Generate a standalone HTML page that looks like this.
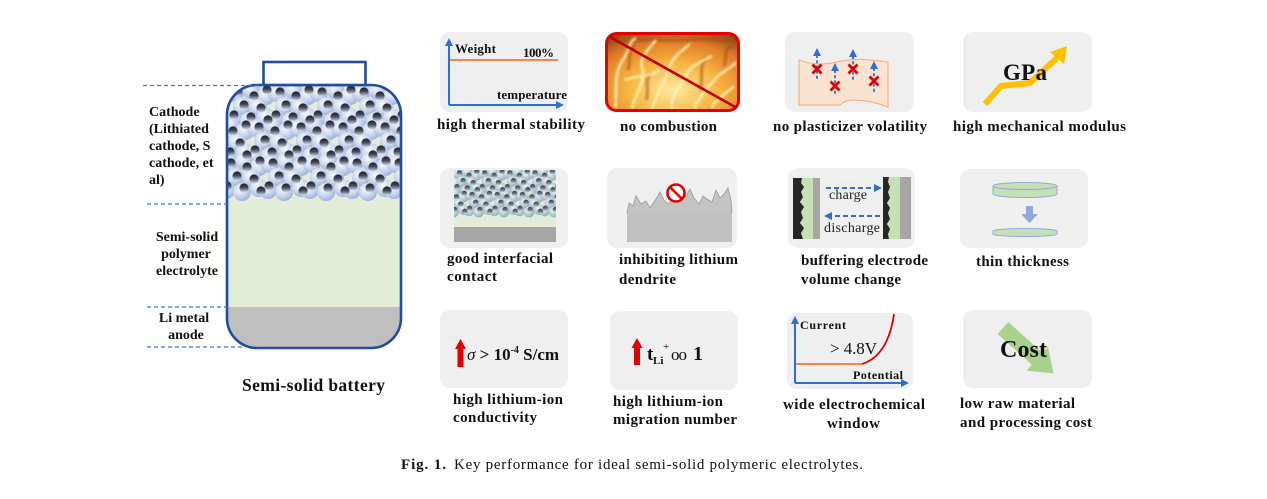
<!DOCTYPE html>
<html><head><meta charset="utf-8"><style>
html,body{margin:0;padding:0;background:#fff;}
svg{display:block;}
</style></head><body>
<svg width="1267" height="499" viewBox="0 0 1267 499" xmlns="http://www.w3.org/2000/svg" font-family="'Liberation Serif', serif">
<defs>
  <radialGradient id="bub" cx="0.4" cy="0.35" r="0.65">
    <stop offset="0" stop-color="#f6f9fd"/><stop offset="0.55" stop-color="#cfdaef"/><stop offset="1" stop-color="#9fb3dc"/>
  </radialGradient>
  <radialGradient id="bub2" cx="0.4" cy="0.35" r="0.65">
    <stop offset="0" stop-color="#eef4f3"/><stop offset="0.55" stop-color="#b9d0d6"/><stop offset="1" stop-color="#8fb0bd"/>
  </radialGradient>
  <linearGradient id="sph" x1="0" y1="0" x2="0" y2="1">
    <stop offset="0" stop-color="#1c1d26"/><stop offset="0.45" stop-color="#444a5a"/><stop offset="0.8" stop-color="#a0a9bb"/><stop offset="1" stop-color="#e3e8f0"/>
  </linearGradient>
  <linearGradient id="sph2" x1="0" y1="0" x2="0" y2="1">
    <stop offset="0" stop-color="#3a3f48"/><stop offset="0.5" stop-color="#66707c"/><stop offset="1" stop-color="#d8dee4"/>
  </linearGradient>
  <radialGradient id="fireg" cx="0.5" cy="0.72" r="0.8">
    <stop offset="0" stop-color="#ffe9a0"/><stop offset="0.4" stop-color="#f9b845"/><stop offset="0.75" stop-color="#e07d26"/><stop offset="1" stop-color="#8a4418"/>
  </radialGradient>
  <filter id="blur1" x="-10%" y="-10%" width="120%" height="120%"><feGaussianBlur stdDeviation="1.1"/></filter>
  <clipPath id="bodyclip"><rect x="228" y="86" width="172" height="261" rx="29"/></clipPath>
  <clipPath id="cathclip"><rect x="228" y="86" width="172" height="122"/></clipPath>
  <clipPath id="miniclip"><rect x="454" y="170" width="102" height="58"/></clipPath>
  <clipPath id="fireclip"><rect x="607" y="34.5" width="131" height="75" rx="9"/></clipPath>
  <g id="clb">
    <circle cx="6" cy="6" r="9"/><circle cx="22" cy="3" r="9"/><circle cx="37" cy="9" r="9"/><circle cx="13" cy="19" r="9"/><circle cx="29" cy="20" r="9"/><circle cx="4" cy="32" r="9"/><circle cx="20" cy="34" r="9"/><circle cx="37" cy="30" r="9"/>
  </g>
  <g id="cls">
    <circle cx="9" cy="5" r="4.6"/><circle cx="25" cy="9" r="4.6"/><circle cx="38" cy="3" r="4.6"/><circle cx="15" cy="18" r="4.6"/><circle cx="32" cy="21" r="4.6"/><circle cx="5" cy="28" r="4.6"/><circle cx="22" cy="30" r="4.6"/><circle cx="39" cy="33" r="4.6"/>
  </g>
</defs>

<!-- ===== Battery ===== -->
<g clip-path="url(#bodyclip)">
  <rect x="226" y="84" width="176" height="224" fill="#e3ecd6"/>
  <rect x="226" y="307" width="176" height="42" fill="#bfbfbf"/>
  <g clip-path="url(#cathclip)">
    <g fill="url(#bub)">
      <use href="#clb" x="229" y="87"/><use href="#clb" x="271" y="87"/><use href="#clb" x="313" y="87"/><use href="#clb" x="355" y="87"/><use href="#clb" x="397" y="87"/>
      <use href="#clb" x="208" y="122"/><use href="#clb" x="250" y="122"/><use href="#clb" x="292" y="122"/><use href="#clb" x="334" y="122"/><use href="#clb" x="376" y="122"/>
      <use href="#clb" x="222" y="158"/><use href="#clb" x="264" y="158"/><use href="#clb" x="306" y="158"/><use href="#clb" x="348" y="158"/><use href="#clb" x="390" y="158"/>
    </g>
    <g fill="url(#sph)">
      <use href="#cls" x="229" y="87"/><use href="#cls" x="271" y="87"/><use href="#cls" x="313" y="87"/><use href="#cls" x="355" y="87"/><use href="#cls" x="397" y="87"/>
      <use href="#cls" x="208" y="122"/><use href="#cls" x="250" y="122"/><use href="#cls" x="292" y="122"/><use href="#cls" x="334" y="122"/><use href="#cls" x="376" y="122"/>
      <use href="#cls" x="222" y="158"/><use href="#cls" x="264" y="158"/><use href="#cls" x="306" y="158"/><use href="#cls" x="348" y="158"/><use href="#cls" x="390" y="158"/>
    </g>
  </g>
</g>
<rect x="227" y="85" width="174" height="263" rx="30" fill="none" stroke="#1f4e9a" stroke-width="2.6"/>
<rect x="263.5" y="62" width="102" height="23" fill="#fff" stroke="#1f4e9a" stroke-width="2.6"/>
<g stroke="#4472c4" stroke-width="1.3" stroke-dasharray="4 3">
  <line x1="143" y1="85.5" x2="263" y2="85.5"/>
  <line x1="147" y1="204" x2="227" y2="204"/>
  <line x1="147" y1="307" x2="227" y2="307"/>
  <line x1="147" y1="347" x2="242" y2="347"/>
</g>
<g font-size="14" font-weight="bold" fill="#111">
  <text x="149" y="116">Cathode</text>
  <text x="149" y="133">(Lithiated</text>
  <text x="149" y="150">cathode, S</text>
  <text x="149" y="167">cathode, et</text>
  <text x="149" y="184">al)</text>
  <text x="187" y="241" text-anchor="middle">Semi-solid</text>
  <text x="186" y="258" text-anchor="middle">polymer</text>
  <text x="187" y="275" text-anchor="middle">electrolyte</text>
  <text x="184" y="322" text-anchor="middle">Li metal</text>
  <text x="186" y="339" text-anchor="middle">anode</text>
</g>
<text x="242" y="391" font-size="17.5" font-weight="bold" fill="#111" textLength="143">Semi-solid battery</text>

<!-- ===== Panels backgrounds ===== -->
<g fill="#efefef">
  <rect x="440" y="32" width="128" height="80" rx="10"/>
  <rect x="785" y="32" width="129" height="80" rx="10"/>
  <rect x="963" y="32" width="129" height="80" rx="10"/>
  <rect x="440" y="168" width="128" height="80" rx="10"/>
  <rect x="607" y="168" width="130" height="80" rx="10"/>
  <rect x="788" y="168" width="127" height="80" rx="10"/>
  <rect x="960" y="169" width="128" height="79" rx="10"/>
  <rect x="440" y="310" width="128" height="78" rx="10"/>
  <rect x="610" y="311" width="128" height="79" rx="10"/>
  <rect x="787" y="313" width="126" height="76" rx="10"/>
  <rect x="963" y="310" width="129" height="78" rx="10"/>
</g>

<!-- R1P1 thermal -->
<g stroke="#2f6fce" stroke-width="2" fill="none">
  <line x1="449" y1="105" x2="449" y2="45"/>
  <line x1="449" y1="105" x2="556" y2="105"/>
</g>
<polygon points="449,38 445,46 453,46" fill="#2f6fce"/>
<polygon points="564,105 556,101 556,109" fill="#2f6fce"/>
<line x1="450" y1="60" x2="558" y2="60" stroke="#ed7d31" stroke-width="1.8"/>
<g font-size="13" font-weight="bold" fill="#111">
  <text x="455" y="53" textLength="41">Weight</text>
  <text x="523" y="57" textLength="31">100%</text>
  <text x="497" y="99" textLength="70">temperature</text>
</g>

<!-- R1P2 fire -->
<g clip-path="url(#fireclip)">
  <rect x="605" y="32" width="136" height="80" fill="url(#fireg)"/>
  <g fill="none" stroke="#a04a16" stroke-width="3" opacity="0.55" filter="url(#blur1)">
    <path d="M610,40 C625,44 640,38 660,40 C680,42 700,36 735,42"/>
    <path d="M628,70 C632,60 626,52 634,46"/>
    <path d="M700,90 C704,78 698,68 706,58"/>
    <path d="M724,66 C728,58 722,50 732,46"/>
    <path d="M646,100 C650,90 644,82 650,74"/>
  </g>
  <g fill="none" stroke="#fff1b8" stroke-width="2.6" opacity="0.9" filter="url(#blur1)">
    <path d="M615,108 C618,90 612,75 624,58 C630,50 628,42 636,38"/>
    <path d="M632,108 C636,92 646,82 642,66 C640,56 650,48 656,40"/>
    <path d="M652,108 C656,96 664,84 668,70 C672,58 680,52 690,44"/>
    <path d="M672,108 C670,96 680,88 686,76 C690,66 700,62 712,56"/>
    <path d="M694,108 C700,96 706,90 714,80 C720,72 730,70 736,62"/>
    <path d="M712,108 C716,98 726,94 734,86"/>
    <path d="M625,80 C640,74 650,78 660,70"/>
  </g>
</g>
<rect x="606.5" y="33.5" width="132" height="77" rx="10" fill="none" stroke="#e60000" stroke-width="3"/>
<line x1="610" y1="37" x2="737" y2="108" stroke="#c00000" stroke-width="2.6"/>

<!-- R1P3 plasticizer -->
<path d="M799,60 Q815,66 832,63 Q852,58 870,60 L888,62 L888,107 Q870,100 853,100 Q845,100 840,105 L799,105 Z" fill="#fbe3d2" stroke="#f4b183" stroke-width="1.2"/>
<g stroke="#2f6fce" stroke-width="1.8" stroke-dasharray="3 2.2">
  <line x1="817" y1="55" x2="817" y2="80"/>
  <line x1="835" y1="70" x2="835" y2="95"/>
  <line x1="853" y1="56" x2="853" y2="80"/>
  <line x1="874" y1="68" x2="874" y2="92"/>
</g>
<g fill="#2f6fce">
  <polygon points="817,48 813,56 821,56"/>
  <polygon points="835,63 831,71 839,71"/>
  <polygon points="853,49 849,57 857,57"/>
  <polygon points="874,61 870,69 878,69"/>
</g>
<g stroke="#e00000" stroke-width="2.8">
  <path d="M812.5,64.5 L821.5,73.5 M821.5,64.5 L812.5,73.5"/>
  <path d="M830.5,81.5 L839.5,90.5 M839.5,81.5 L830.5,90.5"/>
  <path d="M848.5,64.5 L857.5,73.5 M857.5,64.5 L848.5,73.5"/>
  <path d="M869.5,76.5 L878.5,85.5 M878.5,76.5 L869.5,85.5"/>
</g>

<!-- R1P4 GPa -->
<polyline points="985,104 1001,86 1030,83 1057,58" fill="none" stroke="#ffc000" stroke-width="6" stroke-linejoin="miter"/>
<polygon points="1067,46 1064,64 1050,52" fill="#ffc000"/>
<text x="1003" y="80" font-size="23" font-weight="bold" fill="#111" textLength="44">GPa</text>

<!-- R2P1 interfacial -->
<rect x="454" y="170" width="102" height="58" fill="#e3ecd6"/>
<g clip-path="url(#miniclip)">
  <g transform="translate(454,170) scale(0.6)">
    <g fill="url(#bub2)">
      <use href="#clb" x="0" y="0"/><use href="#clb" x="42" y="0"/><use href="#clb" x="84" y="0"/><use href="#clb" x="126" y="0"/><use href="#clb" x="168" y="0"/>
      <use href="#clb" x="-21" y="36"/><use href="#clb" x="21" y="36"/><use href="#clb" x="63" y="36"/><use href="#clb" x="105" y="36"/><use href="#clb" x="147" y="36"/>
    </g>
    <g fill="url(#sph2)">
      <use href="#cls" x="0" y="0"/><use href="#cls" x="42" y="0"/><use href="#cls" x="84" y="0"/><use href="#cls" x="126" y="0"/><use href="#cls" x="168" y="0"/>
      <use href="#cls" x="-21" y="36"/><use href="#cls" x="21" y="36"/><use href="#cls" x="63" y="36"/><use href="#cls" x="105" y="36"/><use href="#cls" x="147" y="36"/>
    </g>
  </g>
</g>
<rect x="454" y="227" width="102" height="15" fill="#a5a5a5"/>

<!-- R2P2 dendrite -->
<polygon points="627,213 629,203 633,206 636,196 641,204 646,201 650,208 656,199 660,192 664,200 668,204 674,198 680,200 686,196 690,189 694,198 699,204 703,196 707,199 712,202 716,190 720,198 724,194 728,188 731,200 732,213" fill="#c3c3c3" stroke="#9a9a9a" stroke-width="0.8"/>
<rect x="627" y="212" width="105" height="30" fill="#c0c0c0"/>
<circle cx="676" cy="193" r="8.5" fill="#fff" stroke="#e00000" stroke-width="2.6"/>
<line x1="670" y1="187" x2="682" y2="199" stroke="#e00000" stroke-width="2.6"/>

<!-- R2P3 electrode -->
<rect x="801" y="178" width="13" height="61" fill="#c5e0b4"/>
<rect x="813" y="178" width="7" height="61" fill="#a6a6a6"/>
<polygon points="793,178 802,178 801,183 804,187 801,192 803,197 800,202 804,207 801,212 803,218 800,223 804,228 801,233 803,239 793,239" fill="#262626"/>
<rect x="888" y="177" width="12" height="62" fill="#c5e0b4"/>
<rect x="900" y="177" width="11" height="62" fill="#a6a6a6"/>
<polygon points="883,177 889,177 888,182 890,187 888,192 890,198 887,203 890,208 888,213 890,219 887,224 890,229 888,234 889,239 883,239" fill="#262626"/>
<g stroke="#2f6fce" stroke-width="2" stroke-dasharray="5 3">
  <line x1="826" y1="188" x2="875" y2="188"/>
  <line x1="880" y1="216" x2="832" y2="216"/>
</g>
<polygon points="882,188 874,184 874,192" fill="#2f6fce"/>
<polygon points="824,216 832,212 832,220" fill="#2f6fce"/>
<text x="829" y="199" font-size="14" fill="#222" textLength="38">charge</text>
<text x="824" y="232" font-size="14" fill="#222" textLength="56">discharge</text>

<!-- R2P4 thin -->
<path d="M993,186 A32,3.5 0 0 1 1057,186 L1057,194 A32,3.5 0 0 1 993,194 Z" fill="#c5e0b4" stroke="#8faadc" stroke-width="1"/>
<path d="M993,186 A32,3.5 0 0 0 1057,186" fill="none" stroke="#8faadc" stroke-width="1"/>
<rect x="1026" y="206" width="7" height="9" fill="#8faadc"/>
<polygon points="1021,214 1038,214 1029.5,223" fill="#8faadc"/>
<path d="M993,231 A32,2.5 0 0 1 1057,231 L1057,234 A32,2.5 0 0 1 993,234 Z" fill="#c5e0b4" stroke="#8faadc" stroke-width="1"/>

<!-- R3P1 sigma -->
<rect x="457.5" y="348" width="6" height="19" fill="#e00000"/>
<polygon points="460.5,339 455,349 466,349" fill="#e00000"/>
<text x="467" y="360" font-size="17" font-weight="bold" fill="#111"><tspan font-style="italic" font-weight="normal">σ</tspan> &gt; 10<tspan font-size="10" dy="-7">-4</tspan><tspan dy="7"> S/cm</tspan></text>

<!-- R3P2 tLi -->
<rect x="634" y="347" width="6" height="18" fill="#e00000"/>
<polygon points="637,338 631.5,348 642.5,348" fill="#e00000"/>
<text x="647" y="360" font-size="19" font-weight="bold" fill="#111">t</text>
<text x="653" y="364" font-size="11" font-weight="bold" fill="#111">Li</text>
<text x="663" y="350" font-size="11" fill="#111">+</text>
<text x="671" y="360" font-size="17" fill="#111" textLength="16">oo</text>
<text x="693" y="360" font-size="20" font-weight="bold" fill="#111">1</text>

<!-- R3P3 window -->
<g stroke="#2f6fce" stroke-width="2" fill="none">
  <line x1="795" y1="383" x2="795" y2="323"/>
  <line x1="795" y1="383" x2="902" y2="383"/>
</g>
<polygon points="795,316 791,324 799,324" fill="#2f6fce"/>
<polygon points="909,383 901,379 901,387" fill="#2f6fce"/>
<line x1="796" y1="364" x2="862" y2="364" stroke="#ed7d31" stroke-width="1.8"/>
<path d="M862,364 Q888,356 894,314" fill="none" stroke="#e00000" stroke-width="1.8"/>
<text x="800" y="329" font-size="12" font-weight="bold" fill="#111" textLength="46">Current</text>
<text x="830" y="354" font-size="17" fill="#111" textLength="47">&gt; 4.8V</text>
<text x="853" y="379" font-size="12" font-weight="bold" fill="#111" textLength="50">Potential</text>

<!-- R3P4 cost -->
<g transform="translate(1003,328) rotate(42)">
  <polygon points="0,-8 46,-8 46,-16 68,0 46,16 46,8 0,8" fill="#a9d18e"/>
</g>
<text x="1000" y="357" font-size="24" font-weight="bold" fill="#111" textLength="47">Cost</text>

<!-- ===== Labels ===== -->
<g font-size="15" font-weight="bold" fill="#111">
  <text x="437" y="129" textLength="148">high thermal stability</text>
  <text x="620" y="131" textLength="97">no combustion</text>
  <text x="773" y="131" textLength="154">no plasticizer volatility</text>
  <text x="953" y="131" textLength="173">high mechanical modulus</text>

  <text x="447" y="263" textLength="106">good interfacial</text>
  <text x="447" y="281" textLength="50">contact</text>
  <text x="619" y="264" textLength="119">inhibiting lithium</text>
  <text x="619" y="284" textLength="57">dendrite</text>
  <text x="801" y="265" textLength="127">buffering electrode</text>
  <text x="801" y="284" textLength="100">volume change</text>
  <text x="976" y="266" textLength="93">thin thickness</text>

  <text x="453" y="404" textLength="110">high lithium-ion</text>
  <text x="453" y="422" textLength="84">conductivity</text>
  <text x="613" y="406" textLength="110">high lithium-ion</text>
  <text x="613" y="424" textLength="124">migration number</text>
  <text x="783" y="409" textLength="142">wide electrochemical</text>
  <text x="827" y="428" textLength="53">window</text>
  <text x="960" y="408" textLength="115">low raw material</text>
  <text x="960" y="427" textLength="132">and processing cost</text>
</g>

<!-- Caption -->
<text x="401" y="469" font-size="15" font-weight="bold" fill="#111" textLength="45">Fig. 1.</text>
<text x="454" y="469" font-size="15" fill="#111" textLength="409">Key performance for ideal semi-solid polymeric electrolytes.</text>
</svg>
</body></html>
